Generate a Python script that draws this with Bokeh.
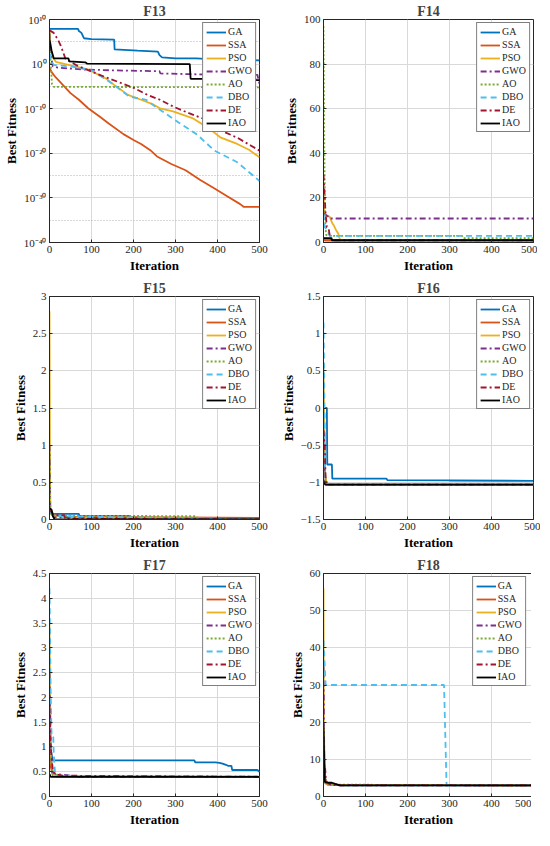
import numpy as np
from bokeh.plotting import figure
from bokeh.layouts import gridplot
from bokeh.models import Legend, LegendItem, FixedTicker, Grid, Range1d
from bokeh.embed import file_html
from bokeh.resources import INLINE

ALGS = ["GA", "SSA", "PSO", "GWO", "AO", "DBO", "DE", "IAO"]
COLORS = ["#0072BD", "#D95319", "#EDB120", "#7E2F8E", "#77AC30", "#4DBEEE", "#A2142F", "#000000"]
DASHES = ["solid", "solid", "solid", "6 3 2 3", "2 2", "6 4", "6 3 2 3", "solid"]

# ---------------- F13 (log10 of best fitness) ----------------
f13_GA_x = [0, 68, 70, 76, 82, 100, 154, 155, 210, 258, 262, 268, 300, 350, 400, 460, 500]
f13_GA_e = [7.9, 7.9, 7.4, 7.0, 5.8, 5.6, 5.5, 3.3, 3.0, 2.8, 2.0, 1.5, 1.3, 1.3, 1.0, 0.9, 0.85]
f13_SSA_x = [0, 5, 15, 30, 50, 70, 92, 120, 141, 176, 200, 218, 240, 256, 290, 324, 359, 393, 424, 454, 462, 500]
f13_SSA_e = [-0.8, -1.8, -3.0, -4.5, -6.5, -8.0, -9.9, -11.8, -13.3, -15.7, -17.0, -17.9, -19.3, -20.7, -22.4, -23.8, -26.0, -27.9, -29.7, -31.4, -32.0, -32.0]
f13_PSO_x = [0, 3, 8, 15, 50, 92, 134, 160, 187, 218, 248, 263, 294, 340, 378, 408, 447, 475, 500]
f13_PSO_e = [7.5, 3.5, 1.5, 0.5, -0.3, -1.2, -3.2, -5.1, -6.9, -8.0, -9.1, -9.9, -10.6, -12.1, -14.3, -16.5, -17.9, -19.2, -20.9]
f13_GWO_x = [0, 3, 8, 20, 80, 150, 262, 264, 400, 495, 500]
f13_GWO_e = [7.0, 2.0, -0.5, -0.8, -1.2, -1.4, -1.6, -2.1, -2.4, -2.4, -4.5]
f13_AO_x = [0, 3, 6, 10, 500]
f13_AO_e = [7.5, 0.0, -4.5, -5.1, -5.2]
f13_DBO_x = [0, 5, 10, 50, 100, 150, 190, 230, 256, 309, 350, 393, 447, 500]
f13_DBO_e = [2.5, 0.5, -0.2, -0.5, -1.4, -4.4, -7.3, -8.0, -9.8, -13.2, -15.7, -19.4, -22.0, -26.2]
f13_DE_x = [0, 10, 20, 27, 38, 65, 111, 141, 172, 202, 233, 263, 294, 332, 370, 401, 447, 480, 500]
f13_DE_e = [7.6, 7.0, 5.5, 4.1, 1.2, -0.3, -2.1, -3.2, -4.3, -5.4, -6.9, -8.0, -9.5, -11.0, -12.4, -14.6, -16.5, -18.3, -19.4]
f13_IAO_x = [0, 5, 10, 45, 47, 85, 90, 334, 336, 490, 492, 500]
f13_IAO_e = [5.5, 3.0, 1.3, 1.3, 0.6, 0.4, 0.1, 0.0, -3.3, -3.3, -3.6, -3.6]

# ---------------- F14 ----------------
f14_GA_x = [0, 3, 500];              f14_GA_y = [2.0, 1.0, 1.0]
f14_SSA_x = [0, 3, 500];             f14_SSA_y = [2.0, 1.0, 1.0]
f14_PSO_x = [0, 2, 15, 20, 25, 30, 35, 38, 40, 500]
f14_PSO_y = [22, 12.5, 11.5, 9, 7.5, 5.5, 4.0, 2.0, 1.0, 1.0]
f14_GWO_x = [0, 5, 12, 15, 500];     f14_GWO_y = [13, 12.5, 11.5, 10.76, 10.76]
f14_AO_x = [0, 2, 4, 6, 10, 330, 332, 500]
f14_AO_y = [97, 40, 10, 3.5, 2.98, 2.98, 2.0, 2.0]
f14_DBO_x = [0, 3, 10, 15, 500];     f14_DBO_y = [13, 7, 5, 2.98, 2.98]
f14_DE_x = [0, 3, 5, 8, 12, 15, 20, 500]
f14_DE_y = [30.5, 20, 13, 7, 6.5, 3, 1.0, 1.0]
f14_IAO_x = [0, 19, 20, 500];        f14_IAO_y = [2.0, 2.0, 1.0, 0.998]

# ---------------- F15 ----------------
f15_GA_x = [0, 5, 70, 71, 190, 192, 500];   f15_GA_y = [0.13, 0.075, 0.075, 0.05, 0.05, 0.02, 0.02]
f15_SSA_x = [0, 5, 10, 30, 500];            f15_SSA_y = [0.15, 0.1, 0.06, 0.04, 0.0203]
f15_PSO_x = [0, 1, 2, 10, 50, 500];         f15_PSO_y = [2.8, 1.0, 0.15, 0.05, 0.03, 0.003]
f15_GWO_x = [0, 1, 2, 10, 500];             f15_GWO_y = [1.0, 0.5, 0.1, 0.03, 0.0004]
f15_AO_x = [0, 2, 5, 20, 350, 352, 500];    f15_AO_y = [0.95, 0.1, 0.06, 0.05, 0.045, 0.003, 0.0005]
f15_DBO_x = [0, 5, 15, 60, 500];            f15_DBO_y = [0.12, 0.09, 0.05, 0.04, 0.0003]
f15_DE_x = [0, 5, 10, 35, 37, 500];         f15_DE_y = [0.12, 0.1, 0.06, 0.06, 0.01, 0.001]
f15_IAO_x = [0, 5, 8, 12, 500];             f15_IAO_y = [0.15, 0.13, 0.05, 0.003, 0.0003]

# ---------------- F16 ----------------
f16_GA_x = [0, 8, 9, 20, 21, 150, 152, 300, 500]
f16_GA_y = [0.0, 0.0, -0.76, -0.76, -0.95, -0.95, -0.97, -0.975, -0.98]
f16_SSA_x = [0, 3, 8, 500];       f16_SSA_y = [-0.3, -0.9, -1.03, -1.0316]
f16_PSO_x = [0, 2, 4, 8, 500];    f16_PSO_y = [0.6, -0.2, -0.9, -1.0316, -1.0316]
f16_GWO_x = [0, 3, 6, 500];       f16_GWO_y = [-0.4, -0.95, -1.0316, -1.0316]
f16_AO_x = [0, 3, 6, 500];        f16_AO_y = [-0.2, -0.9, -1.03, -1.0316]
f16_DBO_x = [0, 2, 4, 6, 500];    f16_DBO_y = [1.15, 0.2, -0.9, -1.0316, -1.0316]
f16_DE_x = [0, 3, 5, 9, 500];     f16_DE_y = [-0.3, -0.5, -0.95, -1.0316, -1.0316]
f16_IAO_x = [0, 4, 500];          f16_IAO_y = [-0.98, -1.0316, -1.0316]

# ---------------- F17 ----------------
f17_GA_x = [0, 5, 8, 345, 347, 395, 405, 412, 420, 425, 433, 435, 495, 500]
f17_GA_y = [1.1, 0.85, 0.73, 0.73, 0.69, 0.69, 0.68, 0.665, 0.64, 0.62, 0.62, 0.535, 0.535, 0.5]
f17_SSA_x = [0, 3, 8, 20, 500];            f17_SSA_y = [1.3, 0.6, 0.42, 0.4, 0.398]
f17_PSO_x = [0, 2, 4, 10, 500];            f17_PSO_y = [3.5, 1.5, 0.7, 0.42, 0.398]
f17_GWO_x = [0, 3, 6, 15, 65, 67, 500];    f17_GWO_y = [2.5, 1.0, 0.5, 0.45, 0.41, 0.398, 0.398]
f17_AO_x = [0, 3, 8, 30, 500];             f17_AO_y = [1.2, 0.8, 0.45, 0.41, 0.398]
f17_DBO_x = [0, 3, 5, 9, 10, 12, 14, 500]; f17_DBO_y = [4.2, 2.0, 1.2, 1.2, 0.9, 0.6, 0.42, 0.398]
f17_DE_x = [0, 3, 8, 15, 30, 500];         f17_DE_y = [1.8, 1.0, 0.5, 0.45, 0.42, 0.398]
f17_IAO_x = [0, 3, 500];                   f17_IAO_y = [0.45, 0.398, 0.398]

# ---------------- F18 ----------------
f18_GA_x = [0, 3, 10, 40, 500];        f18_GA_y = [20, 5, 3.5, 3.0, 3.0]
f18_SSA_x = [0, 3, 10, 500];           f18_SSA_y = [15, 4, 3.2, 3.0]
f18_PSO_x = [0, 1, 3, 10, 500];        f18_PSO_y = [56, 20, 5, 3.2, 3.0]
f18_GWO_x = [0, 2, 5, 20, 500];        f18_GWO_y = [35, 8, 3.5, 3.1, 3.0]
f18_AO_x = [0, 2, 5, 500];             f18_AO_y = [20, 5, 3.2, 3.0]
f18_DBO_x = [0, 3, 5, 287, 293, 500];  f18_DBO_y = [42, 35, 30, 30, 3, 3.0]
f18_DE_x = [0, 4, 6, 15, 30, 500];     f18_DE_y = [7.5, 7.5, 4, 3.3, 3.0, 3.0]
f18_IAO_x = [0, 3, 5, 20, 28, 40, 500]; f18_IAO_y = [18.5, 4, 3.8, 3.7, 3.4, 3.0, 3.0]

X_TICKS = [0, 100, 200, 300, 400, 500]

FONT = "Liberation Serif"
TXT = "#262626"


def style_axis(ax):
    ax.major_tick_in = 3
    ax.major_tick_out = 0
    ax.minor_tick_in = 0
    ax.minor_tick_out = 0
    ax.axis_line_color = TXT
    ax.major_tick_line_color = TXT
    ax.major_label_text_font = FONT
    ax.major_label_text_font_size = "11px"
    ax.major_label_text_color = TXT
    ax.axis_label_text_font = FONT
    ax.axis_label_text_font_size = "13px"
    ax.axis_label_text_font_style = "bold"
    ax.axis_label_text_color = "#000000"
    ax.major_label_standoff = 3
    ax.axis_label_standoff = 2


def make_panel(title, series, ylo, yhi, yticks, left_col, log=False, ylabels=None):
    kw = dict(frame_width=210, frame_height=223,
              min_border_left=36, min_border_right=18 if left_col else 7,
              min_border_top=18, min_border_bottom=35,
              output_backend="svg", toolbar_location=None,
              x_range=Range1d(0, 500), y_range=Range1d(ylo, yhi))
    if log:
        kw["y_axis_type"] = "log"
    p = figure(**kw)
    p.title.text = title
    p.title.align = "center"
    p.title.text_font = FONT
    p.title.text_font_size = "14px"
    p.title.text_font_style = "bold"
    p.title.standoff = 2
    p.outline_line_color = TXT
    p.outline_line_alpha = 1
    p.background_fill_color = "white"
    p.border_fill_color = "white"

    p.xaxis.ticker = FixedTicker(ticks=X_TICKS)
    p.yaxis.ticker = FixedTicker(ticks=yticks)
    if ylabels is not None:
        p.yaxis.major_label_overrides = ylabels
    p.xaxis.axis_label = "Iteration"
    p.yaxis.axis_label = "Best Fitness"
    style_axis(p.xaxis[0])
    style_axis(p.yaxis[0])

    p.xgrid.ticker = FixedTicker(ticks=X_TICKS)
    p.ygrid.ticker = FixedTicker(ticks=yticks)
    for g in (p.xgrid[0], p.ygrid[0]):
        g.grid_line_color = "#d9d9d9"
        g.grid_line_width = 1

    items = []
    for name, color, dash, (xs, ys) in zip(ALGS, COLORS, DASHES, series):
        r = p.line(xs, ys, line_color=color, line_width=1.8, line_dash=dash)
        items.append(LegendItem(label=name, renderers=[r]))
    leg = Legend(items=items, location="top_right")
    leg.label_text_font = FONT
    leg.label_text_font_size = "10px"
    leg.label_text_color = TXT
    leg.label_height = 10
    leg.glyph_height = 10
    leg.glyph_width = 20
    leg.spacing = 2
    leg.padding = 3
    leg.margin = 3
    leg.label_standoff = 2
    leg.border_line_color = "#000000"
    leg.border_line_width = 1
    leg.background_fill_alpha = 1
    p.add_layout(leg)
    return p


def pw(e):
    return list(10.0 ** np.array(e, dtype=float))


s13 = [(f13_GA_x, pw(f13_GA_e)), (f13_SSA_x, pw(f13_SSA_e)), (f13_PSO_x, pw(f13_PSO_e)),
       (f13_GWO_x, pw(f13_GWO_e)), (f13_AO_x, pw(f13_AO_e)), (f13_DBO_x, pw(f13_DBO_e)),
       (f13_DE_x, pw(f13_DE_e)), (f13_IAO_x, pw(f13_IAO_e))]
f13_ticks = [1e10, 1e0, 1e-10, 1e-20, 1e-30, 1e-40]
f13_labels = {1e10: "10¹⁰", 1e0: "10⁰", 1e-10: "10⁻¹⁰", 1e-20: "10⁻²⁰", 1e-30: "10⁻³⁰", 1e-40: "10⁻⁴⁰"}
p13 = make_panel("F13", s13, 1e-40, 1e10, f13_ticks, True, log=True, ylabels=f13_labels)
minor = Grid(dimension=1, ticker=FixedTicker(ticks=[1e5, 1e-5, 1e-15, 1e-25, 1e-35]),
             grid_line_color="#b0b0b0", grid_line_dash="1 2", grid_line_width=1)
p13.add_layout(minor)

s14 = [(f14_GA_x, f14_GA_y), (f14_SSA_x, f14_SSA_y), (f14_PSO_x, f14_PSO_y), (f14_GWO_x, f14_GWO_y),
       (f14_AO_x, f14_AO_y), (f14_DBO_x, f14_DBO_y), (f14_DE_x, f14_DE_y), (f14_IAO_x, f14_IAO_y)]
p14 = make_panel("F14", s14, 0, 100, [0, 20, 40, 60, 80, 100], False)

s15 = [(f15_GA_x, f15_GA_y), (f15_SSA_x, f15_SSA_y), (f15_PSO_x, f15_PSO_y), (f15_GWO_x, f15_GWO_y),
       (f15_AO_x, f15_AO_y), (f15_DBO_x, f15_DBO_y), (f15_DE_x, f15_DE_y), (f15_IAO_x, f15_IAO_y)]
p15 = make_panel("F15", s15, 0, 3, [0, 0.5, 1, 1.5, 2, 2.5, 3], True)

s16 = [(f16_GA_x, f16_GA_y), (f16_SSA_x, f16_SSA_y), (f16_PSO_x, f16_PSO_y), (f16_GWO_x, f16_GWO_y),
       (f16_AO_x, f16_AO_y), (f16_DBO_x, f16_DBO_y), (f16_DE_x, f16_DE_y), (f16_IAO_x, f16_IAO_y)]
p16 = make_panel("F16", s16, -1.5, 1.5, [-1.5, -1, -0.5, 0, 0.5, 1, 1.5], False)

s17 = [(f17_GA_x, f17_GA_y), (f17_SSA_x, f17_SSA_y), (f17_PSO_x, f17_PSO_y), (f17_GWO_x, f17_GWO_y),
       (f17_AO_x, f17_AO_y), (f17_DBO_x, f17_DBO_y), (f17_DE_x, f17_DE_y), (f17_IAO_x, f17_IAO_y)]
p17 = make_panel("F17", s17, 0, 4.5, [0, 0.5, 1, 1.5, 2, 2.5, 3, 3.5, 4, 4.5], True)

s18 = [(f18_GA_x, f18_GA_y), (f18_SSA_x, f18_SSA_y), (f18_PSO_x, f18_PSO_y), (f18_GWO_x, f18_GWO_y),
       (f18_AO_x, f18_AO_y), (f18_DBO_x, f18_DBO_y), (f18_DE_x, f18_DE_y), (f18_IAO_x, f18_IAO_y)]
p18 = make_panel("F18", s18, 0, 60, [0, 10, 20, 30, 40, 50, 60], False)

grid = gridplot([[p13, p14], [p15, p16], [p17, p18]], toolbar_location=None)

open("out.html", "w").write(file_html(grid, INLINE))
